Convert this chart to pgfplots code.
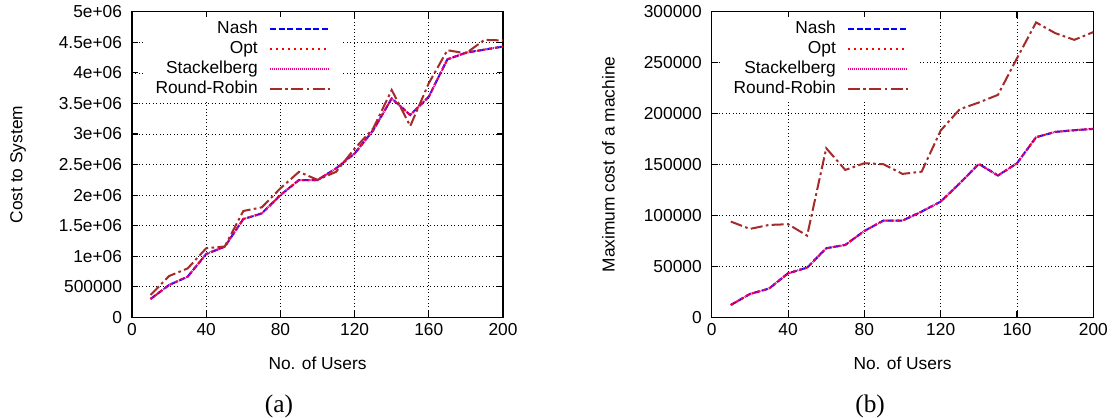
\documentclass[border=0pt]{standalone}
\usepackage{fontspec}
\setmainfont{Liberation Sans}
\newfontfamily\capfont{Liberation Serif}
\usepackage{pgfplots}
\usepackage{pgfplotstable}
\pgfplotsset{compat=1.18}
\definecolor{rrbrown}{HTML}{A52A2A}
\newcommand{\gpfont}{\fontsize{13}{15}\selectfont}

% x, Nash, Opt, Stackelberg, Round-Robin
\pgfplotstableread{
x    nash     opt      stack    rr
10   300000   300000   300000   365000
20   529000   529000   529000   676000
30   665000   665000   665000   800000
40   1036000  1036000  1036000  1130000
50   1156000  1156000  1156000  1160000
60   1608000  1608000  1608000  1740000
70   1700000  1700000  1700000  1800000
80   2000000  2000000  2000000  2110000
90   2246000  2246000  2246000  2380000
100  2246000  2246000  2246000  2250000
110  2437000  2437000  2437000  2380000
120  2680000  2680000  2680000  2760000
130  3060000  3060000  3060000  3090000
140  3580000  3580000  3580000  3720000
150  3310000  3310000  3310000  3130000
160  3610000  3610000  3610000  3830000
170  4220000  4220000  4220000  4370000
180  4330000  4330000  4330000  4320000
190  4380000  4380000  4380000  4540000
200  4430000  4430000  4430000  4530000
}\costtable

\pgfplotstableread{
x    nash    opt     stack   rr
10   12100   12100   12100   94000
20   22900   22900   22900   86800
30   28200   28200   28200   90700
40   43200   43200   43200   91400
50   48800   48800   48800   80200
60   67800   67800   67800   166000
70   71100   71100   71100   144700
80   84800   84800   84800   151300
90   95000   95000   95000   150300
100  95000   95000   95000   140800
110  103800  103800  103800  143000
120  113600  113600  113600  183400
130  131600  131600  131600  204300
140  150600  150600  150600  210900
150  139200  139200  139200  218400
160  151300  151300  151300  254400
170  176800  176800  176800  289500
180  182000  182000  182000  279000
190  183700  183700  183700  272400
200  185000  185000  185000  280000
}\maxtable

\pgfplotsset{
  gpstyle/.style={
    scale only axis,
    clip mode=individual,
    scaled y ticks=false,
    xmin=0, xmax=200, xtick={0,40,...,200},
    tick align=inside, tick pos=both,
    major tick length=4.5pt,
    grid=major,
    grid style={black, line width=0.5pt, dash pattern=on 0.6pt off 2pt},
    axis line style={line width=1pt},
    every tick/.style={black, line width=0.8pt},
    ticklabel style={font=\gpfont},
    yticklabel style={xshift=-4pt},
    xticklabel style={yshift=-1pt},
    /pgf/number format/assume math mode=true,
    xlabel={No. of Users},
    every axis x label/.style={at={(axis description cs:0.5,-0.15)}, anchor=center, font=\gpfont},
    legend cell align=right,
    legend plot pos=right,
    legend style={draw=none, fill=white, anchor=north east,
      font=\gpfont,
      inner xsep=8pt, inner ysep=3pt, row sep=2pt,
      nodes={inner sep=0.5pt, text height=9pt, text depth=3pt},
      /tikz/every odd column/.append style={column sep=8pt}},
    legend image code/.code={\draw[##1] (0pt,0pt) -- (45pt,0pt);},
  },
  nash/.style={blue, line width=1.5pt, dash pattern=on 4.5pt off 2pt},
  opt/.style={red, line width=1.5pt, dash pattern=on 1.5pt off 3pt},
  stack/.style={magenta, line width=1.5pt, dash pattern=on 0.75pt off 0.75pt},
  rr/.style={rrbrown, line width=1.5pt, dash pattern=on 9pt off 2.5pt on 2pt off 2.5pt},
}

\begin{document}
\begin{tikzpicture}
\useasboundingbox (0,0) rectangle (836.25pt,313.5pt);

% (a) cost to system
\begin{axis}[gpstyle,
  at={(99pt,75.5pt)}, anchor=south west,
  width=278.25pt, height=229.2pt,
  ymin=0, ymax=5000000,
  ytick={0,500000,1000000,1500000,2000000,2500000,3000000,3500000,4000000,4500000,5000000},
  yticklabels={0,500000,1e+06,1.5e+06,2e+06,2.5e+06,3e+06,3.5e+06,4e+06,4.5e+06,5e+06},
  ylabel={Cost to System},
  every axis y label/.style={at={(axis description cs:-0.307,0.5)}, rotate=90, anchor=center, font=\gpfont},
  legend style={at={(0.566,0.985)}},
]
\addplot[nash] table[x=x, y=nash] {\costtable};
\addplot[opt] table[x=x, y=opt] {\costtable};
\addplot[stack] table[x=x, y=stack] {\costtable};
\addplot[rr] table[x=x, y=rr] {\costtable};
\legend{Nash, Opt, Stackelberg, Round-Robin}
\node[font=\capfont\fontsize{19}{21}\selectfont, anchor=center] at (axis description cs:0.396,-0.29) {(a)};
\end{axis}

% (b) maximum cost of a machine
\begin{axis}[gpstyle,
  at={(533.8pt,75.5pt)}, anchor=south west,
  width=286.2pt, height=229.2pt,
  ymin=0, ymax=300000,
  ytick={0,50000,100000,150000,200000,250000,300000},
  yticklabels={0,50000,100000,150000,200000,250000,300000},
  ylabel={Maximum cost of a machine},
  every axis y label/.style={at={(axis description cs:-0.271,0.5)}, rotate=90, anchor=center, font=\gpfont},
  legend style={at={(0.546,0.985)}},
]
\addplot[nash] table[x=x, y=nash] {\maxtable};
\addplot[opt] table[x=x, y=opt] {\maxtable};
\addplot[stack] table[x=x, y=stack] {\maxtable};
\addplot[rr] table[x=x, y=rr] {\maxtable};
\legend{Nash, Opt, Stackelberg, Round-Robin}
\node[font=\capfont\fontsize{19}{21}\selectfont, anchor=center] at (axis description cs:0.415,-0.29) {(b)};
\end{axis}
\end{tikzpicture}
\end{document}
